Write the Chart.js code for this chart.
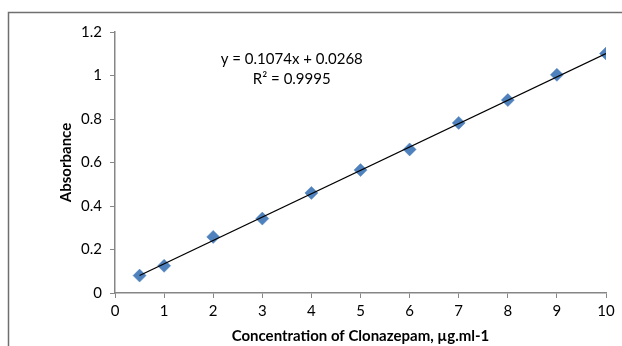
<!DOCTYPE html>
<html><head><meta charset="utf-8">
<script src="https://cdn.jsdelivr.net/npm/chart.js@4"></script>
<style>html,body{margin:0;padding:0;background:#fff}#wrap{width:622px;height:346px}</style>
</head><body><div id="wrap"><canvas id="c" width="622" height="346"></canvas></div>
<script>
const concentrations = [0.5, 1, 2, 3, 4, 5, 6, 7, 8, 9, 10];
const absorbance = [0.08, 0.125, 0.258, 0.342, 0.46, 0.565, 0.66, 0.782, 0.887, 1.003, 1.101];
const slope = 0.1074, intercept = 0.0268;
const equationLines = ['y = 0.1074x + 0.0268', 'R\u00B2 = 0.9995'];
const yTickLabels = ['0', '0.2', '0.4', '0.6', '0.8', '1', '1.2'];
const xTickLabels = ['0','1','2','3','4','5','6','7','8','9','10'];
const xTitle = 'Concentration of Clonazepam, \u00B5g.ml-1';
const yTitle = 'Absorbance';

const FONT = 'Lato, "Open Sans", sans-serif';
const FS = 15;
const trendX = [concentrations[0], concentrations[concentrations.length-1]];

const framePlugin = {
  id: 'frame',
  beforeDraw(chart) {
    const ctx = chart.ctx;
    ctx.save();
    ctx.fillStyle = '#fff';
    ctx.fillRect(0, 0, chart.width, chart.height);
    ctx.strokeStyle = '#6f6f6f';
    ctx.lineWidth = 1.5;
    ctx.beginPath();
    ctx.moveTo(8.5, chart.height + 5);
    ctx.lineTo(8.5, 12.5);
    ctx.lineTo(chart.width + 5, 12.5);
    ctx.stroke();
    ctx.restore();
  }
};
const eqPlugin = {
  id: 'eq',
  afterDatasetsDraw(chart) {
    const ctx = chart.ctx, xs = chart.scales.x, ys = chart.scales.y;
    ctx.save();
    ctx.fillStyle = '#000';
    ctx.font = FS + 'px ' + FONT;
    ctx.textAlign = 'center';
    ctx.textBaseline = 'middle';
    const cx = xs.getPixelForValue(3.6);
    ctx.fillText(equationLines[0], cx, ys.getPixelForValue(1.075));
    ctx.fillText(equationLines[1], cx, ys.getPixelForValue(0.984));
    ctx.restore();
  }
};

new Chart(document.getElementById('c'), {
  type: 'scatter',
  data: {
    datasets: [
      {
        type: 'line',
        data: trendX.map(x => ({x, y: slope * x + intercept})),
        borderColor: '#000',
        borderWidth: 1.3,
        pointRadius: 0,
        fill: false,
        order: 0
      },
      {
        data: concentrations.map((x, i) => ({x, y: absorbance[i]})),
        pointStyle: 'rectRot',
        pointRadius: 6.5,
        backgroundColor: '#4F81BD',
        borderColor: '#4A7EBB',
        borderWidth: 0.5,
        order: 1
      }
    ]
  },
  options: {
    responsive: false,
    animation: false,
    devicePixelRatio: 1,
    layout: { padding: { top: 32, right: 16, left: 0, bottom: 0 } },
    plugins: { legend: { display: false }, tooltip: { enabled: false } },
    scales: {
      x: {
        type: 'linear', min: 0, max: 10,
        afterFit(s) { s.height = 53; },
        ticks: { stepSize: 1, color: '#000', font: { family: FONT, size: FS }, padding: 4,
                 callback: (v) => xTickLabels[Math.round(v)] },
        grid: { drawOnChartArea: false, drawTicks: true, tickLength: 5, tickColor: '#868686' },
        border: { display: true, color: '#868686', width: 1.5 },
        title: { display: true, text: xTitle, color: '#000',
                 font: { family: FONT, size: FS, weight: 'bold' }, padding: { top: 0, bottom: 1 } }
      },
      y: {
        type: 'linear', min: 0, max: 1.2,
        afterFit(s) { s.width = 115; },
        ticks: { stepSize: 0.2, color: '#000', font: { family: FONT, size: FS }, padding: 8,
                 callback: (v) => yTickLabels[Math.round(v / 0.2)] },
        grid: { drawOnChartArea: false, drawTicks: true, tickLength: 5, tickColor: '#868686' },
        border: { display: true, color: '#868686', width: 1.5 },
        title: { display: true, text: yTitle, color: '#000',
                 font: { family: FONT, size: FS, weight: 'bold' }, padding: { top: 57, bottom: 0 } }
      }
    }
  },
  plugins: [framePlugin, eqPlugin]
});
</script></body></html>
